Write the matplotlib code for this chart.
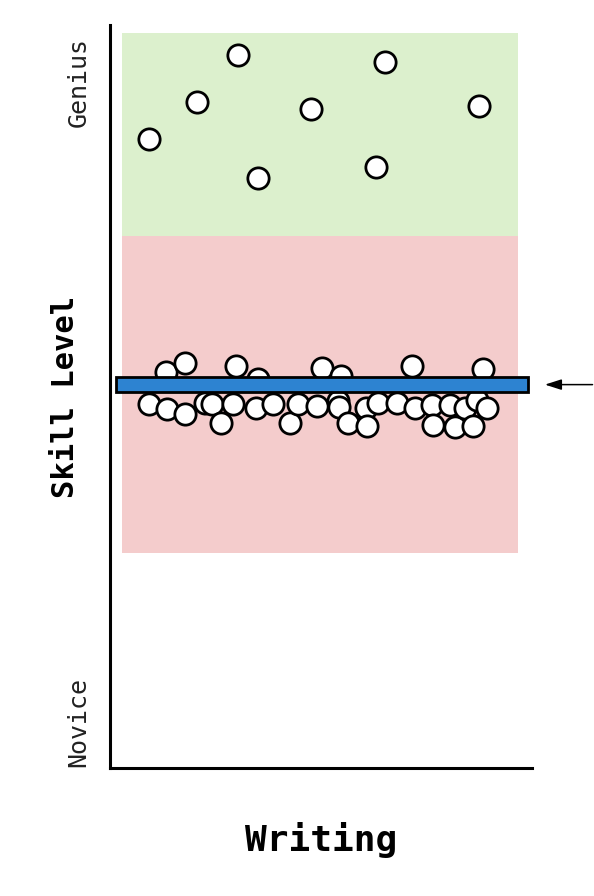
import matplotlib
matplotlib.use("Agg")
import matplotlib.pyplot as plt

# skill scale 0 (novice) .. 100 (genius), writing position 0..100
genius_x = [9.2, 20.6, 30.3, 35.1, 47.6, 65.2, 63.0, 87.4]
genius_y = [84.7, 89.6, 96.0, 79.4, 88.7, 95.0, 80.9, 89.1]

above_x = [13.3, 17.8, 29.9, 35.0, 50.2, 54.7, 71.6, 88.5]
above_y = [53.3, 54.5, 54.1, 52.3, 53.9, 52.8, 54.1, 53.7]

below_x = [9.3, 13.4, 17.8, 22.5, 24.1, 26.3, 29.2, 34.5, 38.7, 42.7,
           44.5, 49.0, 54.1, 54.2, 56.5, 60.7, 60.8, 63.6, 67.9, 72.3,
           76.2, 76.5, 80.6, 81.8, 84.1, 86.1, 86.9, 89.4]
below_y = [49.0, 48.3, 47.7, 49.1, 49.0, 46.4, 49.0, 48.4, 49.0, 46.4,
           49.0, 48.7, 49.4, 48.6, 46.4, 48.5, 46.0, 49.1, 49.1, 48.4,
           48.9, 46.2, 48.9, 45.9, 48.5, 46.0, 49.5, 48.5]

genius_band = (71.6, 98.9)
average_band = (28.9, 71.6)
average_level = 51.6
tick_pos = [92.3, 6.2]
tick_labels = ["Genius", "Novice"]

mono = "DejaVu Sans Mono"

fig = plt.figure(figsize=(5.94, 8.96), dpi=100)
ax = fig.add_axes([110/594, 1-768/896, 422/594, 743/896])
ax.set_xlim(0, 100)
ax.set_ylim(0, 100)

ax.axhspan(*genius_band, xmin=0.028, xmax=0.967, color="#dcf0cd", lw=0, zorder=0)
ax.axhspan(*average_band, xmin=0.028, xmax=0.967, color="#f4cccc", lw=0, zorder=0)

pts = dict(s=235, facecolor="white", edgecolor="black", linewidths=2.0, zorder=2)
ax.scatter(genius_x, genius_y, **pts)
ax.scatter(above_x, above_y, **pts)
ax.scatter(below_x, below_y, **pts)

ax.barh(average_level, 97.7, left=1.4, height=2.0, color="#2d83d1",
        edgecolor="black", linewidth=2.0, zorder=3)

ax.annotate("", xy=(102.4, average_level), xytext=(115, average_level),
            arrowprops=dict(arrowstyle="-|>,head_length=1.0,head_width=0.32",
                            color="black", lw=1.1),
            annotation_clip=False)

for s in ["top", "right"]:
    ax.spines[s].set_visible(False)
for s in ["left", "bottom"]:
    ax.spines[s].set_linewidth(2.2)

ax.set_xticks([])
ax.set_yticks(tick_pos)
ax.set_yticklabels(tick_labels, rotation=90, va="center", family=mono,
                   fontsize=18, color="#222222")
ax.tick_params(axis="y", length=0, pad=14)

ax.text(-0.105, 0.5, "Skill Level", transform=ax.transAxes, rotation=90,
        ha="center", va="center", family=mono, fontweight="bold", fontsize=22)
ax.text(0.501, -0.097, "Writing", transform=ax.transAxes,
        ha="center", va="center", family=mono, fontweight="bold", fontsize=26)

fig.savefig("out.png", dpi=100)
